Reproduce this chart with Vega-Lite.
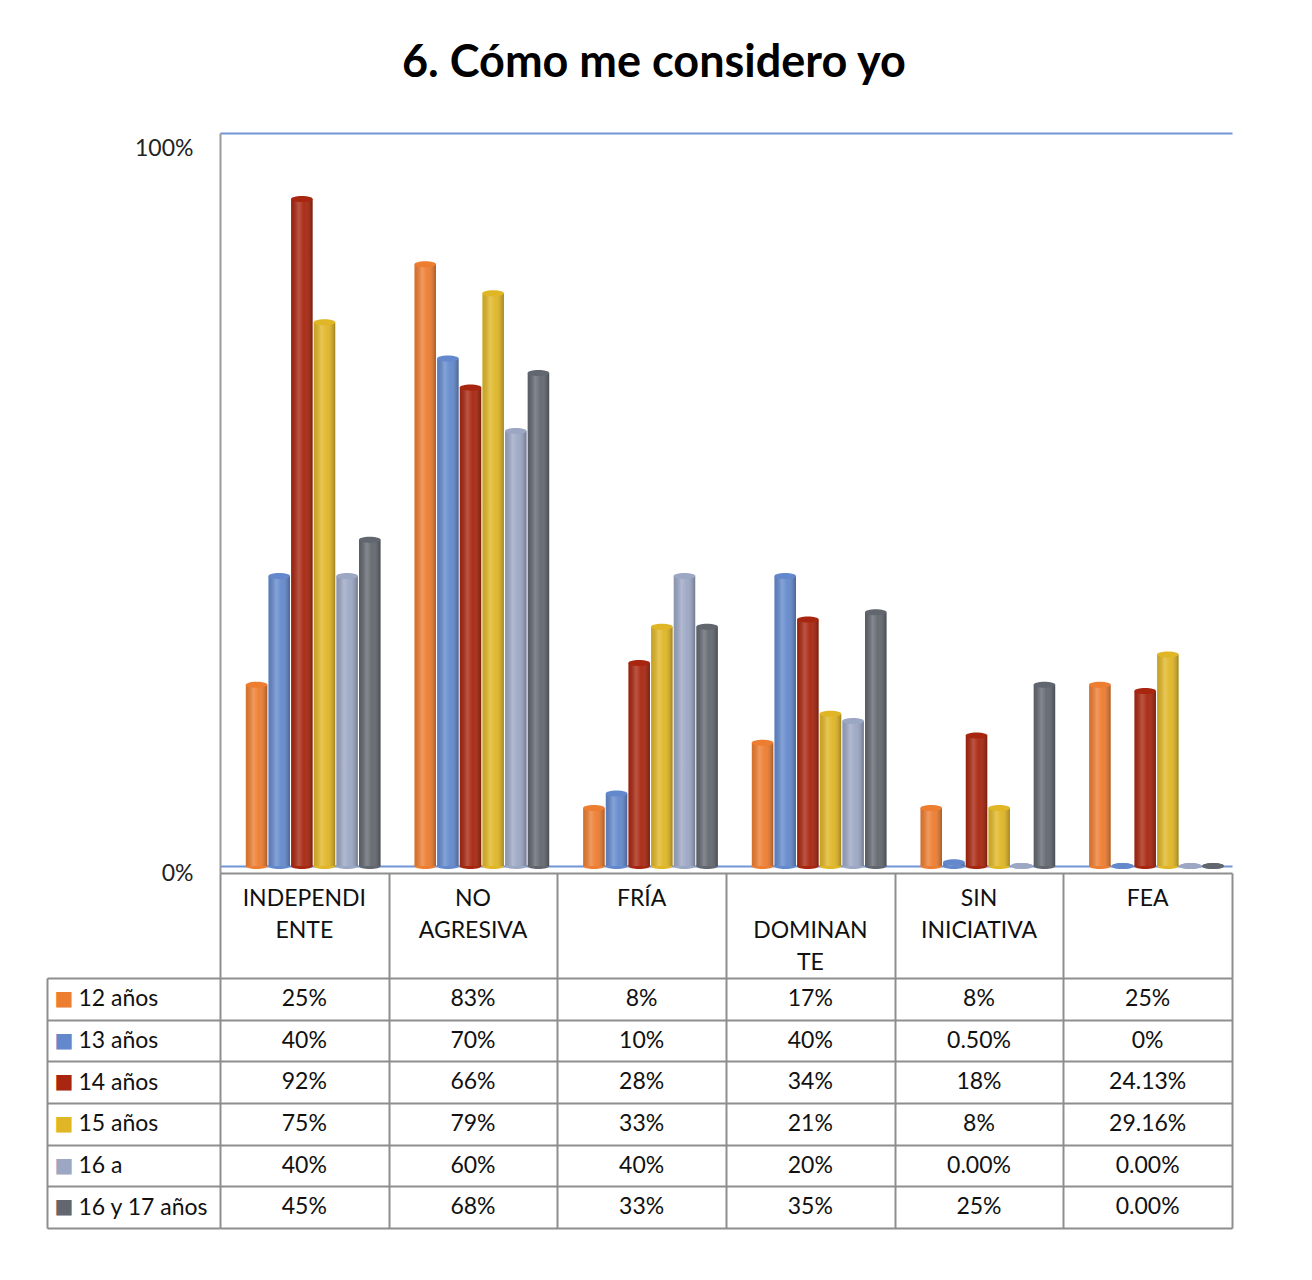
{
  "$schema": "https://vega.github.io/schema/vega-lite/v6.json",
  "padding": {"left": 46, "top": 41, "right": 10, "bottom": 10},
  "background": "white",
  "bounds": "flush",
  "title": {"text": "6. Cómo me considero yo", "font": "Lato", "fontSize": 45, "fontWeight": "bold", "color": "#000000", "anchor": "middle", "dx": 15, "offset": 47},
  "spacing": 0,
  "config": {"view": {"stroke": null}, "font": "Lato"},
  "datasets": {
    "bars": [
      {"cat": "INDEPENDIENTE", "grp": "12 años", "v": 0.25, "t": "25%"},
      {"cat": "NO AGRESIVA", "grp": "12 años", "v": 0.83, "t": "83%"},
      {"cat": "FRÍA", "grp": "12 años", "v": 0.08, "t": "8%"},
      {"cat": "DOMINANTE", "grp": "12 años", "v": 0.17, "t": "17%"},
      {"cat": "SIN INICIATIVA", "grp": "12 años", "v": 0.08, "t": "8%"},
      {"cat": "FEA", "grp": "12 años", "v": 0.25, "t": "25%"},
      {"cat": "INDEPENDIENTE", "grp": "13 años", "v": 0.40, "t": "40%"},
      {"cat": "NO AGRESIVA", "grp": "13 años", "v": 0.70, "t": "70%"},
      {"cat": "FRÍA", "grp": "13 años", "v": 0.10, "t": "10%"},
      {"cat": "DOMINANTE", "grp": "13 años", "v": 0.40, "t": "40%"},
      {"cat": "SIN INICIATIVA", "grp": "13 años", "v": 0.005, "t": "0.50%"},
      {"cat": "FEA", "grp": "13 años", "v": 0, "t": "0%"},
      {"cat": "INDEPENDIENTE", "grp": "14 años", "v": 0.92, "t": "92%"},
      {"cat": "NO AGRESIVA", "grp": "14 años", "v": 0.66, "t": "66%"},
      {"cat": "FRÍA", "grp": "14 años", "v": 0.28, "t": "28%"},
      {"cat": "DOMINANTE", "grp": "14 años", "v": 0.34, "t": "34%"},
      {"cat": "SIN INICIATIVA", "grp": "14 años", "v": 0.18, "t": "18%"},
      {"cat": "FEA", "grp": "14 años", "v": 0.2413, "t": "24.13%"},
      {"cat": "INDEPENDIENTE", "grp": "15 años", "v": 0.75, "t": "75%"},
      {"cat": "NO AGRESIVA", "grp": "15 años", "v": 0.79, "t": "79%"},
      {"cat": "FRÍA", "grp": "15 años", "v": 0.33, "t": "33%"},
      {"cat": "DOMINANTE", "grp": "15 años", "v": 0.21, "t": "21%"},
      {"cat": "SIN INICIATIVA", "grp": "15 años", "v": 0.08, "t": "8%"},
      {"cat": "FEA", "grp": "15 años", "v": 0.2916, "t": "29.16%"},
      {"cat": "INDEPENDIENTE", "grp": "16 a", "v": 0.40, "t": "40%"},
      {"cat": "NO AGRESIVA", "grp": "16 a", "v": 0.60, "t": "60%"},
      {"cat": "FRÍA", "grp": "16 a", "v": 0.40, "t": "40%"},
      {"cat": "DOMINANTE", "grp": "16 a", "v": 0.20, "t": "20%"},
      {"cat": "SIN INICIATIVA", "grp": "16 a", "v": 0, "t": "0.00%"},
      {"cat": "FEA", "grp": "16 a", "v": 0, "t": "0.00%"},
      {"cat": "INDEPENDIENTE", "grp": "16 y 17 años", "v": 0.45, "t": "45%"},
      {"cat": "NO AGRESIVA", "grp": "16 y 17 años", "v": 0.68, "t": "68%"},
      {"cat": "FRÍA", "grp": "16 y 17 años", "v": 0.33, "t": "33%"},
      {"cat": "DOMINANTE", "grp": "16 y 17 años", "v": 0.35, "t": "35%"},
      {"cat": "SIN INICIATIVA", "grp": "16 y 17 años", "v": 0.25, "t": "25%"},
      {"cat": "FEA", "grp": "16 y 17 años", "v": 0, "t": "0.00%"}
    ],
    "heads": [
      {"cat": "INDEPENDIENTE", "lbl": "INDEPENDI|ENTE"},
      {"cat": "NO AGRESIVA", "lbl": "NO|AGRESIVA"},
      {"cat": "FRÍA", "lbl": "FRÍA"},
      {"cat": "DOMINANTE", "lbl": "|DOMINAN|TE"},
      {"cat": "SIN INICIATIVA", "lbl": "SIN|INICIATIVA"},
      {"cat": "FEA", "lbl": "FEA"}
    ]
  },
  "vconcat": [
    {
      "width": 1012,
      "height": 740,
      "data": {"name": "bars"},
      "encoding": {
        "x": {"field": "cat", "type": "nominal", "sort": null,
          "scale": {"domain": ["INDEPENDIENTE", "NO AGRESIVA", "FRÍA", "DOMINANTE", "SIN INICIATIVA", "FEA"], "paddingInner": 0, "paddingOuter": 0},
          "axis": {"orient": "top", "labels": false, "ticks": false, "domain": true, "domainColor": "#7195D6", "domainWidth": 2, "grid": false, "title": null}},
        "xOffset": {"field": "grp", "type": "nominal", "sort": null,
          "scale": {"domain": ["12 años", "13 años", "14 años", "15 años", "16 a", "16 y 17 años"], "paddingInner": 0.05, "paddingOuter": 0.75, "align": 0.76}},
        "y": {"field": "v", "type": "quantitative",
          "scale": {"domain": [-0.0097, 1.011], "nice": false, "zero": false},
          "axis": {"values": [0, 1], "format": ".0%", "labelPadding": 27, "ticks": false, "tickSize": 0, "labelOffset": 8, "labelFontSize": 23, "labelColor": "#222222", "domain": true, "domainColor": "#9a9a9a", "domainWidth": 2, "grid": true, "gridColor": {"condition": {"test": "datum.value == 0", "value": "#7195D6"}, "value": "transparent"}, "gridWidth": 2, "title": null}}
      },
      "layer": [
        {
          "mark": {"type": "point", "filled": true, "opacity": 1, "strokeWidth": 0, "size": 470, "shape": "M -1 0 A 1 0.28 0 1 1 1 0 A 1 0.28 0 1 1 -1 0 Z"},
          "encoding": {
            "y": {"datum": 0},
            "color": {"field": "grp", "type": "nominal",
              "scale": {"domain": ["12 años", "13 años", "14 años", "15 años", "16 a", "16 y 17 años"], "range": ["#ED7D31", "#6389CC", "#A8260F", "#E0B626", "#9CA7C4", "#62676F"]},
              "legend": null}
          }
        },
        {
          "mark": {"type": "bar"},
          "encoding": {
            "color": {"field": "grp", "type": "nominal", "legend": null}
          }
        },
        {
          "mark": {"type": "bar", "color": {"gradient": "linear", "x1": 0, "y1": 0, "x2": 1, "y2": 0, "stops": [
            {"offset": 0, "color": "rgba(0,0,0,0.10)"},
            {"offset": 0.35, "color": "rgba(255,255,255,0.22)"},
            {"offset": 0.6, "color": "rgba(255,255,255,0.04)"},
            {"offset": 1, "color": "rgba(0,0,0,0.28)"}]}}
        },
        {
          "mark": {"type": "point", "filled": true, "opacity": 1, "strokeWidth": 0, "size": 470, "shape": "M -1 0 A 1 0.28 0 1 1 1 0 A 1 0.28 0 1 1 -1 0 Z"},
          "encoding": {
            "color": {"field": "grp", "type": "nominal", "legend": null}
          }
        }
      ]
    },
    {
      "width": 1012,
      "height": 105,
      "data": {"name": "heads"},
      "mark": {"type": "text", "lineBreak": "|", "fontSize": 23, "lineHeight": 32, "baseline": "middle", "dy": -27, "color": "#111111"},
      "encoding": {
        "x": {"field": "cat", "type": "nominal", "sort": null,
          "scale": {"domain": ["INDEPENDIENTE", "NO AGRESIVA", "FRÍA", "DOMINANTE", "SIN INICIATIVA", "FEA"], "paddingInner": 0, "paddingOuter": 0},
          "axis": {"orient": "top", "labels": false, "ticks": false, "domain": true, "domainColor": "#8E8E8E", "domainWidth": 2, "grid": true, "tickBand": "extent", "gridColor": "#8E8E8E", "gridWidth": 2, "title": null}},
        "text": {"field": "lbl", "type": "nominal"}
      }
    },
    {
      "width": 1012,
      "height": 250,
      "data": {"name": "bars"},
      "layer": [
        {
          "mark": {"type": "text", "fontSize": 23, "color": "#111111"},
          "encoding": {
            "x": {"field": "cat", "type": "nominal", "sort": null,
              "scale": {"domain": ["INDEPENDIENTE", "NO AGRESIVA", "FRÍA", "DOMINANTE", "SIN INICIATIVA", "FEA"], "paddingInner": 0, "paddingOuter": 0},
              "axis": {"orient": "bottom", "labels": false, "ticks": false, "domain": false, "grid": true, "tickBand": "extent", "gridColor": "#8E8E8E", "gridWidth": 2, "title": null}},
            "y": {"field": "grp", "type": "nominal", "sort": null,
              "scale": {"domain": ["12 años", "13 años", "14 años", "15 años", "16 a", "16 y 17 años"], "paddingInner": 0, "paddingOuter": 0},
              "axis": {"orient": "left", "tickBand": "extent", "ticks": true, "tickSize": 173, "tickColor": "#8E8E8E", "tickWidth": 2, "grid": true, "gridColor": "#8E8E8E", "gridWidth": 2, "domain": false, "labelAlign": "left", "labelPadding": -31, "labelFontSize": 23, "labelColor": "#111111", "labelBaseline": "middle", "title": null}},
            "text": {"field": "t", "type": "nominal"}
          }
        },
        {
          "mark": {"type": "text", "text": ""},
          "encoding": {
            "y": {"field": "grp", "type": "nominal", "sort": null,
              "scale": {"domain": ["12 años", "13 años", "14 años", "15 años", "16 a", "16 y 17 años"], "paddingInner": 0, "paddingOuter": 0},
              "axis": {"orient": "left", "offset": 173, "domain": true, "domainColor": "#8E8E8E", "domainWidth": 2, "ticks": false, "tickSize": 0, "grid": false, "labelExpr": "'■'", "labelFont": "DejaVu Sans", "labelFontSize": 20, "labelAlign": "left", "labelPadding": -7, "labelBaseline": "middle",
                "labelColor": {"condition": [
                  {"test": "datum.value == '12 años'", "value": "#ED7D31"},
                  {"test": "datum.value == '13 años'", "value": "#6389CC"},
                  {"test": "datum.value == '14 años'", "value": "#A8260F"},
                  {"test": "datum.value == '15 años'", "value": "#E0B626"},
                  {"test": "datum.value == '16 a'", "value": "#9CA7C4"}
                ], "value": "#62676F"},
                "title": null}}
          }
        }
      ],
      "resolve": {"axis": {"y": "independent"}}
    }
  ]
}
